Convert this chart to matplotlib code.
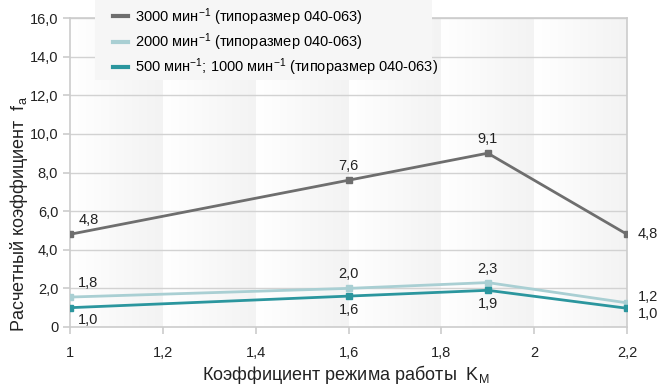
import numpy as np
import matplotlib.pyplot as plt
from matplotlib.colors import LinearSegmentedColormap
from matplotlib.patches import Rectangle

plt.rcParams['font.family'] = ['Liberation Sans', 'DejaVu Sans']
plt.rcParams['mathtext.fontset'] = 'custom'
plt.rcParams['mathtext.rm'] = 'Liberation Sans'
plt.rcParams['mathtext.it'] = 'Liberation Sans'

# данные
km = [1.0, 1.6, 1.9, 2.2]
fa_3000 = [4.8, 7.6, 9.0, 4.8]
fa_2000 = [1.55, 2.0, 2.3, 1.25]
fa_500 = [1.0, 1.6, 1.9, 0.97]
lbl_3000 = ['4,8', '7,6', '9,1', '4,8']
lbl_2000 = ['1,8', '2,0', '2,3', '1,2']
lbl_500 = ['1,0', '1,6', '1,9', '1,0']

series_names = ['3000 мин$^{-1}$ (типоразмер 040-063)',
                '2000 мин$^{-1}$ (типоразмер 040-063)',
                '500 мин$^{-1}$; 1000 мин$^{-1}$ (типоразмер 040-063)']
colors = ['#6e6e6e', '#a9cfd3', '#2b969e']

xticks = [1.0, 1.2, 1.4, 1.6, 1.8, 2.0, 2.2]
xtick_labels = ['1', '1,2', '1,4', '1,6', '1,8', '2', '2,2']
yticks = [0, 2, 4, 6, 8, 10, 12, 14, 16]
ytick_labels = ['0', '2,0', '4,0', '6,0', '8,0', '10,0', '12,0', '14,0', '16,0']

fig = plt.figure(figsize=(6.7, 3.86), dpi=100)
ax = fig.add_axes([70 / 670, 1 - 327 / 386, 557 / 670, 309 / 386])

# фон: полосы с градиентом
cmap = LinearSegmentedColormap.from_list('band', ['#ffffff', '#f3f3f3'])
grad = np.linspace(0, 1, 100).reshape(1, -1)
for i in range(len(xticks) - 1):
    ax.imshow(grad, extent=[xticks[i], xticks[i + 1], 0, 16], cmap=cmap,
              aspect='auto', zorder=0, vmin=0, vmax=1)

for y in yticks[1:]:
    ax.axhline(y, color='#d2d2d2', lw=1, zorder=1)

data = [fa_3000, fa_2000, fa_500]
for vals, c, name in zip(data, colors, series_names):
    ax.plot(km, vals, color=c, lw=2, marker='s', ms=5, label=name, zorder=3)

fs = 10.5
offsets = {'up': (0, 5, 'center', 'bottom'),
           'upright': (6, 5, 'left', 'bottom'),
           'downright': (6, -4, 'left', 'top'),
           'down': (0, -5, 'center', 'top'),
           'right': (8, 0, 'left', 'center'),
           'rightup': (8, 4, 'left', 'center'),
           'rightdown': (8, -4, 'left', 'center')}

def put(vals, lbls, where):
    for x, y, t, w in zip(km, vals, lbls, where):
        dx, dy, ha, va = offsets[w]
        ax.annotate(t, (x, y), xytext=(dx, dy), textcoords='offset points',
                    ha=ha, va=va, fontsize=fs, color='#222222')

put(fa_3000, lbl_3000, ['upright', 'up', 'up', 'right'])
put(fa_2000, lbl_2000, ['upright', 'up', 'up', 'rightup'])
put(fa_500, lbl_500, ['downright', 'down', 'down', 'rightdown'])

ax.set_xlim(1, 2.2)
ax.set_ylim(0, 16)
ax.set_xticks(xticks)
ax.set_xticklabels(xtick_labels, fontsize=fs)
ax.set_yticks(yticks)
ax.set_yticklabels(ytick_labels, fontsize=fs)
ax.tick_params(colors='#cccccc', labelcolor='#222222', length=5, width=1.2)
ax.tick_params(axis='x', pad=9)
for s in ax.spines.values():
    s.set_color('#cccccc')
    s.set_linewidth(1.2)

fig.text(346 / 670, 1 - 375 / 386, 'Коэффициент режима работы  K$_{\\mathrm{М}}$',
         fontsize=13, ha='center', va='center', color='#222222')
fig.text(19 / 670, 1 - 214 / 386, 'Расчетный коэффициент  f$_{\\mathrm{a}}$',
         fontsize=13, ha='center', va='center', rotation=90, color='#222222')

# серая подложка легенды
fig.patches.append(Rectangle((95 / 670, 1 - 80 / 386), 337 / 670, 80 / 386,
                             transform=fig.transFigure, facecolor='#f6f6f6',
                             edgecolor='none', zorder=0))

leg = fig.legend(loc='upper left', bbox_to_anchor=(113 / 670, 1 - 6 / 386),
                 fontsize=10.5, frameon=False, handlelength=1.0,
                 handletextpad=0.5, labelspacing=0.25, borderpad=0,
                 borderaxespad=0)
for h in leg.legend_handles:
    h.set_marker('')
    h.set_linewidth(3)

fig.savefig('out.png', dpi=100)
